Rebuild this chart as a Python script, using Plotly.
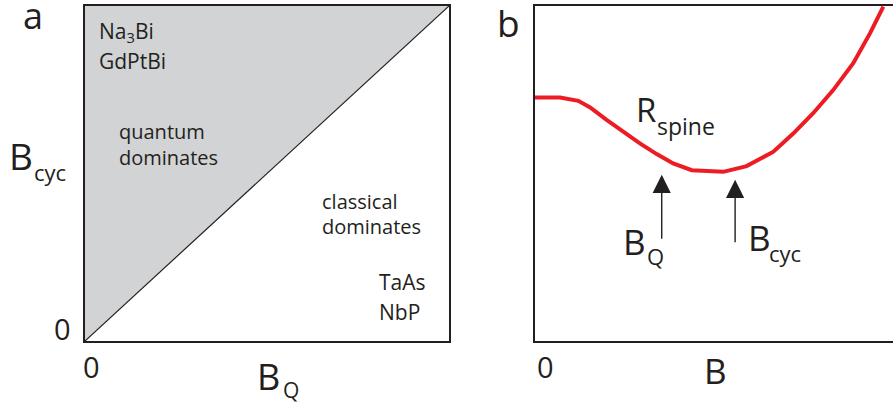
import plotly.graph_objects as go

# ---------------- data ----------------
# panel a: regime diagram (B_Q vs B_cyc), units 0..100
diag_x = [0, 100]
diag_y = [0, 100]
quantum_region_x = [0, 0, 100, 0]
quantum_region_y = [0, 100, 100, 0]

# panel b: R_spine vs B, units 0..100
curve_B = [0, 7.0, 12.1, 15.4, 20.0, 24.7, 29.3, 34.0, 38.6, 43.8, 48.0,
           52.6, 59.1, 66.6, 72.2, 77.7, 83.3, 88.9, 93.6, 97.3]
curve_R = [72.7, 72.7, 71.7, 69.7, 66.0, 62.3, 59.0, 55.8, 53.0, 51.0, 50.8,
           50.5, 52.2, 56.5, 62.0, 68.0, 74.9, 82.9, 91.9, 99.8]

# arrows marking B_Q and B_cyc: x, tail y, tip y
arrow_x = [35.4, 55.9]
arrow_tail_y = [30.1, 29.0]
arrow_tip_y = [49.6, 48.1]

W, H = 893, 408
FONT = "Open Sans"
INK = "#231f20"


def px(x):
    return x / W


def py(y):
    return 1 - y / H


fig = go.Figure()

fig.add_trace(go.Scatter(x=quantum_region_x, y=quantum_region_y, fill="toself",
                         fillcolor="#d1d3d4", mode="none", hoverinfo="skip",
                         xaxis="x", yaxis="y"))
fig.add_trace(go.Scatter(x=diag_x, y=diag_y, mode="lines",
                         line=dict(color=INK, width=1.2), hoverinfo="skip",
                         xaxis="x", yaxis="y"))
fig.add_trace(go.Scatter(x=curve_B, y=curve_R, mode="lines",
                         line=dict(color="#ed1c24", width=4), hoverinfo="skip",
                         xaxis="x2", yaxis="y2"))

ann = []


def txt(x, y, s, size, xanchor="center", height=None):
    a = dict(x=px(x), y=py(y), xref="paper", yref="paper", text=s,
             showarrow=False, xanchor=xanchor, yanchor="middle",
             font=dict(family=FONT, size=size, color=INK))
    if height is not None:
        a["height"] = height
    ann.append(a)


# panel letters
txt(33, 15, "a", 36, height=30)
txt(508, 22, "b", 37, height=40)

# panel a texts
txt(97, 32, "Na<sub>3</sub>Bi", 21, "left")
txt(97, 61, "GdPtBi", 21, "left")
txt(117, 132, "quantum", 20, "left")
txt(117, 157, "dominates", 20, "left")
txt(320, 201, "classical", 20, "left")
txt(320, 226, "dominates", 20, "left")
txt(377, 282, "TaAs", 21, "left")
txt(377, 312, "NbP", 21, "left")

# panel a axis labels
txt(21, 155, "B", 37)
txt(32, 172, "cyc", 22, "left")
txt(62, 328, "0", 29)
txt(91, 366, "0", 29)
txt(268, 376, "B", 36)
txt(281, 390, "Q", 21, "left")

# panel b texts
txt(646, 110, "R", 33)
txt(655, 126, "spine", 23, "left")
txt(634, 241, "B", 35)
txt(645, 256, "Q", 22, "left")
txt(759, 237, "B", 35)
txt(767, 253, "cyc", 22, "left")
txt(545, 366, "0", 29)
txt(715, 370, "B", 35)

# arrows
for xa, yt, yh in zip(arrow_x, arrow_tail_y, arrow_tip_y):
    ann.append(dict(x=xa, y=yh, ax=xa, ay=yt, xref="x2", yref="y2",
                    axref="x2", ayref="y2", text="", showarrow=True,
                    arrowhead=2, arrowsize=2.6, arrowwidth=1.4,
                    arrowcolor=INK, standoff=0, startstandoff=0))

axis_common = dict(showgrid=False, zeroline=False, showticklabels=False,
                   ticks="", range=[0, 100], fixedrange=True,
                   linecolor=INK, linewidth=1.5, showline=True)

fig.update_layout(
    width=W, height=H,
    margin=dict(l=0, r=0, t=0, b=0),
    paper_bgcolor="white", plot_bgcolor="white",
    showlegend=False,
    annotations=ann,
    xaxis=dict(domain=[px(85), px(449)], anchor="y", mirror=True, **axis_common),
    yaxis=dict(domain=[py(341), py(6)], anchor="x", mirror=True, **axis_common),
    xaxis2=dict(domain=[px(535), 1.0], anchor="y2", mirror=True, **axis_common),
    yaxis2=dict(domain=[py(341), py(6)], anchor="x2", mirror=False, **axis_common),
)

fig.write_html("out.html", config={"displayModeBar": False},
               post_script="document.body.style.margin='0px';document.body.style.overflow='hidden';")
